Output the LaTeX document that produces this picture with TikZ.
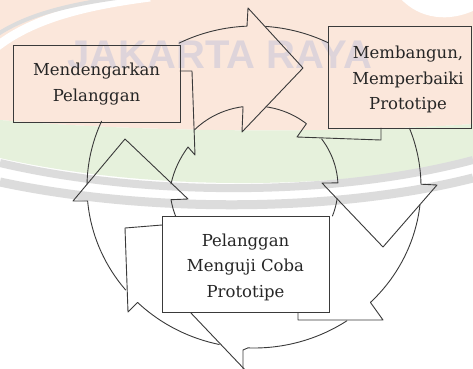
\documentclass[tikz,border=0pt]{standalone}
\usepackage{fontspec}
\setmainfont{DejaVu Serif}
\newfontfamily\wmfont{Liberation Sans}
\definecolor{peach}{HTML}{FBE7DB}
\definecolor{mint}{HTML}{E6F1DC}
\definecolor{stripe}{HTML}{DCDCDC}
\definecolor{wmtext}{HTML}{DED4DA}
\definecolor{inkc}{HTML}{3A3A3A}
\begin{document}
\begin{tikzpicture}[x=1pt,y=-1pt,
  ln/.style={draw=inkc,line width=0.9pt,line join=round,line cap=round},
  boxc/.style={draw=inkc,line width=1pt,rectangle,inner sep=0pt,outer sep=0pt},
  lbl/.style={align=center,text=black!85,font=\fontsize{16.5}{25.5}\selectfont}]
\useasboundingbox (0,0) rectangle (473,368);
\begin{scope}
\clip (0,0) rectangle (473,368);
% watermark background
\fill[white] (0,0) rectangle (473,368);
\fill[peach] (0,0) -- (473,0) -- (473,124) .. controls (330,134) and (140,132) .. (0,120) -- cycle;
\fill[mint] (0,120) .. controls (140,132) and (330,134) .. (473,124) -- (473,160) .. controls (330,192) and (140,190) .. (0,158) -- cycle;
\draw[stripe,line width=8pt] (0,163) .. controls (140,196) and (330,198) .. (473,160);
\draw[stripe,line width=9pt] (0,182) .. controls (140,212) and (330,214) .. (473,178);
\draw[white,line width=9pt] (-5,48) .. controls (30,20) and (80,6) .. (150,-3);
\draw[stripe,line width=4pt] (-5,36) .. controls (30,12) and (80,2) .. (140,-5);
\fill[white] (400,-2) .. controls (420,20) and (450,22) .. (475,10) -- (475,-2) -- cycle;
\node[text=wmtext,font=\wmfont\bfseries\fontsize{40}{40}\selectfont,inner sep=0pt] (wmk) at (220,55) {JAKARTA RAYA};
% arrow 1 (top)
\draw[ln] plot[domain=116.7:92.4,samples=30] ({254+167*cos(\x)},{187-161*sin(\x)}) -- (248,8) -- (303,68) -- (242,132) -- plot[domain=97.5:135,samples=30] ({254+84*cos(\x)},{187-81*sin(\x)});
% box1 right notch
\draw[ln] (180,71) -- (192,71) -- (195,155) -- (188,147) .. controls (180,158) and (174,170) .. (171,184);
% outer arc below box1
\draw[ln] plot[domain=155.9:179,samples=30] ({254+167*cos(\x)},{187-161*sin(\x)});
% arrow 3 (left)
\draw[ln] plot[domain=219.8:185,samples=30] ({254+167*cos(\x)},{187-161*sin(\x)}) -- (73,201) -- (125,139) -- (188,199) -- plot[domain=189:201,samples=10] ({254+84*cos(\x)},{187-81*sin(\x)});
% box3 left notch
\draw[ln] (162,225) -- (125,228) -- (128,312) -- plot[domain=225.8:258,samples=30] ({254+167*cos(\x)},{187-161*sin(\x)});
% bottom
\draw[ln] (190,312) -- (248,373);
\draw[ln] (243,372) -- (243,350) -- plot[domain=-92.1:-56.2,samples=30] ({254+167*cos(\x)},{187-161*sin(\x)});
\draw[ln] (298,312) -- (298,320) -- (383,320) -- plot[domain=-45.8:-6.5,samples=30] ({254+167*cos(\x)},{187-161*sin(\x)});
% arrow 2 (right)
\draw[ln] plot[domain=21.4:1,samples=20] ({254+167*cos(\x)},{187-161*sin(\x)}) -- (437,185) -- (383,247) -- (322,183) -- plot[domain=2.9:36.4,samples=20] ({254+84*cos(\x)},{187-81*sin(\x)});
\draw[ln] plot[domain=-8.3:-21,samples=10] ({254+84*cos(\x)},{187-81*sin(\x)});
% right of arrow 1
\draw[ln] plot[domain=86:63.6,samples=20] ({254+167*cos(\x)},{187-161*sin(\x)});
\draw[ln] plot[domain=81.5:51.4,samples=20] ({254+84*cos(\x)},{187-81*sin(\x)}) -- (297,137) -- (381,140) -- (381,128);
% boxes
\node[boxc,minimum width=167pt,minimum height=77pt] (b1) at (96.5,83.5) {};
\node[boxc,minimum width=143pt,minimum height=102pt] (b2) at (399.5,77) {};
\node[boxc,fill=white,minimum width=167pt,minimum height=96pt] (b3) at (245.5,264) {};
\node[lbl] (t1) at (96.5,84) {Mendengarkan\\Pelanggan};
\node[lbl] (t2) at (408,79.5) {Membangun,\\Memperbaiki\\Prototipe};
\node[lbl] (t3) at (245.5,267) {Pelanggan\\Menguji Coba\\Prototipe};
\end{scope}
\end{tikzpicture}
\end{document}
